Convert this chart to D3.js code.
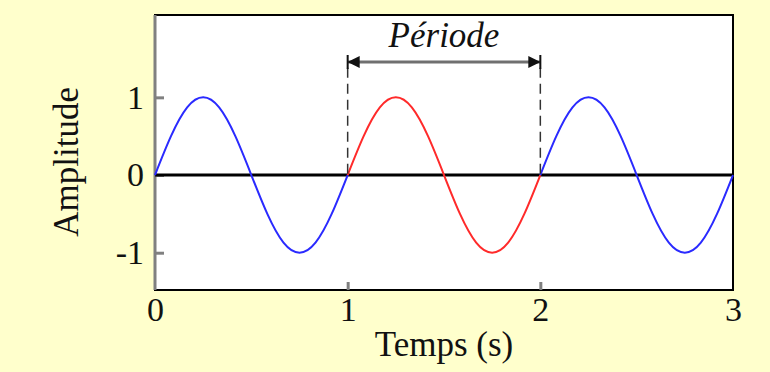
<!DOCTYPE html>
<meta charset="utf-8">
<style>
body { margin: 0; background: #ffffcc; }
text { font-family: "Liberation Serif", "Times New Roman", serif; fill: #111; }
.axis path { display: none; }
.axis line { stroke: #808080; stroke-width: 3; }
.axis text { font-size: 34px; }
</style>
<svg width="770" height="372"></svg>
<script src="https://cdn.jsdelivr.net/npm/d3@7"></script>
<script>

// values (time in s, amplitude)
var temps = [0, 0.083, 0.167, 0.25, 0.333, 0.417, 0.5, 0.583, 0.667, 0.75, 0.833, 0.917,
             1, 1.083, 1.167, 1.25, 1.333, 1.417, 1.5, 1.583, 1.667, 1.75, 1.833, 1.917,
             2, 2.083, 2.167, 2.25, 2.333, 2.417, 2.5, 2.583, 2.667, 2.75, 2.833, 2.917, 3];
var amplitude = [0, 0.5, 0.87, 1, 0.87, 0.5, 0, -0.5, -0.87, -1, -0.87, -0.5,
                 0, 0.5, 0.87, 1, 0.87, 0.5, 0, -0.5, -0.87, -1, -0.87, -0.5,
                 0, 0.5, 0.87, 1, 0.87, 0.5, 0, -0.5, -0.87, -1, -0.87, -0.5, 0];
var segments = [{from: 0, to: 1, color: "#2a2aff"},
                {from: 1, to: 2, color: "#ff2a2a"},
                {from: 2, to: 3, color: "#2a2aff"}];
var xTicks = [0, 1, 2, 3];
var yTicks = [-1, 0, 1];
var periode = [1, 2];

var svg = d3.select("svg"),
    margin = {top: 15, right: 37, bottom: 82, left: 155},
    width = +svg.attr("width") - margin.left - margin.right,
    height = +svg.attr("height") - margin.top - margin.bottom;

var x = d3.scaleLinear().domain([0, 3]).range([0, width]),
    y = d3.scaleLinear().domain([-1.48, 2.06]).range([height, 0]);

var g = svg.append("g")
    .attr("transform", "translate(" + margin.left + "," + margin.top + ")");

g.append("rect")
    .attr("width", width)
    .attr("height", height)
    .attr("fill", "#fff")
    .attr("stroke", "#000")
    .attr("stroke-width", 2);

g.append("g")
    .attr("class", "axis axis--x")
    .attr("transform", "translate(0," + height + ")")
    .call(d3.axisBottom(x).tickValues(xTicks).tickFormat(String)
      .tickSizeInner(-8).tickSizeOuter(0).tickPadding(7))
    .call(function(a) {
      a.selectAll(".tick line").filter(function(d) { return d === 0 || d === 3; }).remove();
    });

g.append("g")
    .attr("class", "axis axis--y")
    .call(d3.axisLeft(y).tickValues(yTicks).tickFormat(String)
      .tickSizeInner(-9).tickSizeOuter(0).tickPadding(11));

// left spine is grey and thicker
g.append("line")
    .attr("x1", 0).attr("x2", 0)
    .attr("y1", 0).attr("y2", height)
    .attr("stroke", "#808080")
    .attr("stroke-width", 3);

// zero line
g.append("line")
    .attr("x1", x(0)).attr("x2", x(3))
    .attr("y1", y(0)).attr("y2", y(0))
    .attr("stroke", "#000")
    .attr("stroke-width", 3);

var pts = temps.map(function(t, i) { return {t: t, a: amplitude[i]}; });

var line = d3.line()
    .x(function(d) { return x(d.t); })
    .y(function(d) { return y(d.a); })
    .curve(d3.curveNatural);

segments.forEach(function(s) {
  g.append("path")
      .datum(pts.filter(function(d) { return d.t >= s.from - 1e-9 && d.t <= s.to + 1e-9; }))
      .attr("fill", "none")
      .attr("stroke", s.color)
      .attr("stroke-width", 2)
      .attr("d", line);
});

// period markers
g.selectAll(".dash")
  .data(periode)
  .enter().append("line")
    .attr("class", "dash")
    .attr("x1", function(d) { return x(d); })
    .attr("x2", function(d) { return x(d); })
    .attr("y1", y(1.38))
    .attr("y2", y(0))
    .attr("stroke", "#333")
    .attr("stroke-width", 1.5)
    .attr("stroke-dasharray", "10,6");

var defs = svg.append("defs");
defs.append("marker")
    .attr("id", "head")
    .attr("viewBox", "0 0 10 10")
    .attr("refX", 10).attr("refY", 5)
    .attr("markerWidth", 12).attr("markerHeight", 12)
    .attr("markerUnits", "userSpaceOnUse")
    .attr("orient", "auto-start-reverse")
  .append("path")
    .attr("d", "M0,0L10,5L0,10Z")
    .attr("fill", "#111");

var ay = y(1.455);
g.append("line")
    .attr("x1", x(periode[0])).attr("x2", x(periode[1]))
    .attr("y1", ay).attr("y2", ay)
    .attr("stroke", "#707070")
    .attr("stroke-width", 3)
    .attr("marker-start", "url(#head)")
    .attr("marker-end", "url(#head)");

g.selectAll(".bar-end")
  .data(periode)
  .enter().append("line")
    .attr("x1", function(d) { return x(d); })
    .attr("x2", function(d) { return x(d); })
    .attr("y1", ay - 7).attr("y2", ay + 7)
    .attr("stroke", "#111")
    .attr("stroke-width", 2);

g.append("text")
    .attr("x", x(1.5))
    .attr("y", ay - 15)
    .attr("text-anchor", "middle")
    .style("font-size", "35px")
    .style("font-style", "italic")
    .text("Période");

svg.append("text")
    .attr("x", margin.left + x(1.5))
    .attr("y", 356)
    .attr("text-anchor", "middle")
    .style("font-size", "35px")
    .text("Temps (s)");

svg.append("text")
    .attr("transform", "translate(78," + (margin.top + y(0.17)) + ") rotate(-90)")
    .attr("text-anchor", "middle")
    .style("font-size", "35px")
    .text("Amplitude");

</script>
